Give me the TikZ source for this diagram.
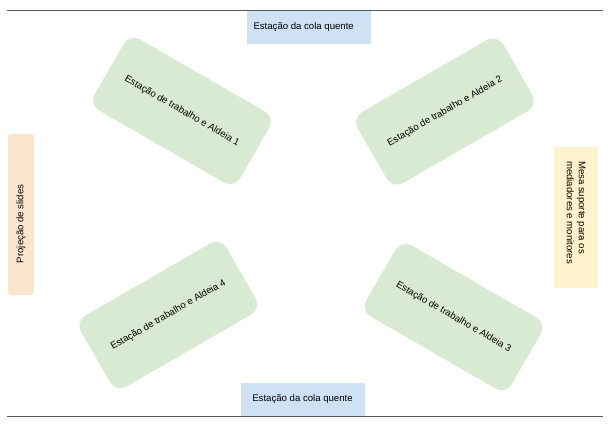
\documentclass[tikz,border=0pt]{standalone}
\usepackage{fontspec}
\setmainfont{Liberation Sans}
\usetikzlibrary{arrows.meta}
\definecolor{villagecol}{HTML}{D9EAD3}
\definecolor{gluecol}{HTML}{CFE2F3}
\definecolor{slidecol}{HTML}{FCE5CD}
\definecolor{deskcol}{HTML}{FFF2CC}
\definecolor{wallcol}{HTML}{595959}

\begin{document}
\begin{tikzpicture}[x=1pt, y=-1pt,
  village/.style={fill=villagecol, rounded corners=12pt, minimum width=168pt, minimum height=82pt,
    font=\fontsize{9.6}{11.5}\selectfont, inner sep=0pt},
  glue/.style={fill=gluecol, minimum width=124pt, minimum height=33pt,
    font=\fontsize{9.6}{11.5}\selectfont, inner sep=0pt},
  side/.style={font=\fontsize{9.6}{12}\selectfont, align=flush left, inner ysep=0pt},
  wall/.style={draw=wallcol, line width=1pt},
]
\useasboundingbox (0,0) rectangle (610,424);

% room walls, top and bottom
\coordinate (topL) at (7,10);
\coordinate (topR) at (603,10);
\coordinate (botL) at (7,416);
\coordinate (botR) at (603,416);
\draw[wall] (topL) -- (topR);
\draw[wall] (botL) -- (botR);

% hot glue stations on the walls
\node[glue, text width=110pt, inner xsep=7pt, align=flush left] (glueTop) at (308.5,27) {Estação da cola quente};
\node[glue] (glueBot) at (302.5,399.5) {Estação da cola quente};

% work stations, tilted round the middle
\node[village, rotate=-30] (village1) at (182,111) {Estação de trabalho e Aldeia 1};
\node[village, rotate=30] (village2) at (445,111.5) {Estação de trabalho e Aldeia 2};
\node[village, rotate=-30] (village3) at (453.5,317) {Estação de trabalho e Aldeia 3};
\node[village, rotate=30] (village4) at (168.3,315) {Estação de trabalho e Aldeia 4};

% projection on the left, support desk on the right
\node[side, fill=slidecol, rounded corners=3pt, text width=97pt, inner xsep=32pt, minimum height=26pt,
  rotate=90] (slides) at (21,214.5) {Projeção de slides};
\node[side, fill=deskcol, text width=113pt, inner xsep=14pt, minimum height=44pt,
  rotate=-90] (desk) at (576,217.5) {Mesa suporte para os\\mediadores e monitores};

\end{tikzpicture}
\end{document}
